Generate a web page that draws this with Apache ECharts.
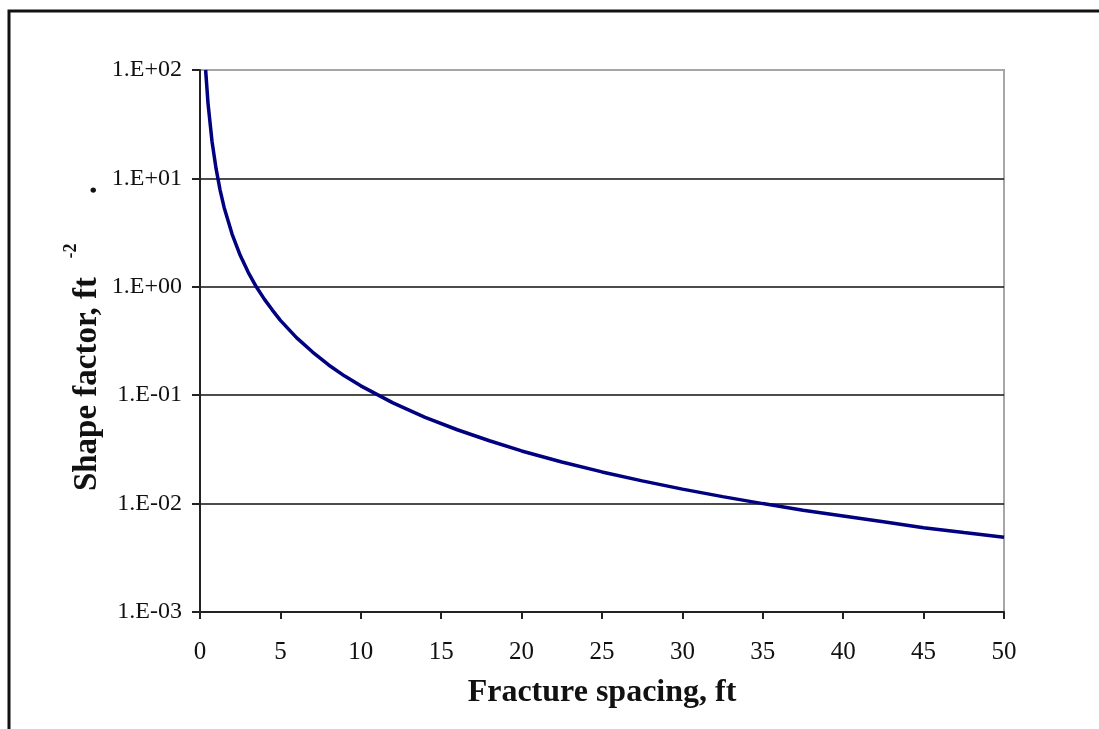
<!DOCTYPE html>
<html>
<head>
<meta charset="utf-8">
<title>Shape factor vs fracture spacing</title>
<script src="https://cdn.jsdelivr.net/npm/echarts@6/dist/echarts.min.js"></script>
<style>
  html, body { margin: 0; padding: 0; background: #fff; }
  #chart { width: 1099px; height: 729px; }
</style>
</head>
<body>
<div id="chart"></div>
<script>
// Fracture spacing (ft)
const spacing = [0.35, 0.5, 0.75, 1, 1.25, 1.5, 2, 2.5, 3, 3.5, 4, 4.5, 5, 6, 7, 8, 9, 10, 12, 14, 16, 18, 20,
                 22.5, 25, 27.5, 30, 32.5, 35, 37.5, 40, 42.5, 45, 47.5, 50];
// Shape factor (ft^-2)
const shapeFactor = [100, 49, 21.8, 12.3, 7.8, 5.4, 3.05, 1.95, 1.36, 1.0, 0.77, 0.61, 0.49, 0.34, 0.25, 0.19, 0.15,
                     0.122, 0.085, 0.0625, 0.048, 0.038, 0.0306, 0.0242, 0.0196, 0.0162, 0.0136,
                     0.0116, 0.0100, 0.0087, 0.0077, 0.0068, 0.0060, 0.0054, 0.0049];
// Log-axis tick labels, bottom to top
const yTickLabels = ['1.E-03', '1.E-02', '1.E-01', '1.E+00', '1.E+01', '1.E+02'];

const serif = '"Liberation Serif", "Times New Roman", serif';
const chart = echarts.init(document.getElementById('chart'), null, { renderer: 'canvas' });

chart.setOption({
  backgroundColor: '#fff',
  animation: false,
  grid: {
    left: 200, top: 70, right: 95, bottom: 117,
    show: true, borderColor: '#a6a6a6', borderWidth: 2, backgroundColor: 'transparent'
  },
  xAxis: {
    type: 'value', min: 0, max: 50, interval: 5,
    axisLine: { show: true, onZero: false, lineStyle: { color: '#222', width: 2 } },
    axisTick: { show: true, inside: false, length: 7, lineStyle: { color: '#222', width: 2 } },
    axisLabel: { margin: 28, color: '#111', fontFamily: serif, fontSize: 25 },
    splitLine: { show: false },
    name: 'Fracture spacing, ft',
    nameLocation: 'middle',
    nameGap: 65,
    nameTextStyle: { color: '#111', fontFamily: serif, fontSize: 32, fontWeight: 'bold' }
  },
  yAxis: {
    type: 'log', logBase: 10, min: 0.001, max: 100,
    axisLine: { show: true, onZero: false, lineStyle: { color: '#222', width: 2 } },
    axisTick: { show: true, inside: false, length: 8, lineStyle: { color: '#222', width: 2 } },
    minorTick: { show: false },
    axisLabel: {
      margin: 18, color: '#111', fontFamily: serif, fontSize: 24,
      formatter: (v, i) => yTickLabels[i]
    },
    splitLine: { show: true, showMaxLine: false, lineStyle: { color: '#111', width: 1.5 } }
  },
  graphic: [
    { // frame edges at left and top
      type: 'polyline', silent: true,
      shape: { points: [[9, 729], [9, 11], [1099, 11]] },
      style: { stroke: '#111', lineWidth: 3, fill: null }
    },
    {
      type: 'text', x: 87, y: 384, rotation: Math.PI / 2, silent: true,
      style: { text: 'Shape factor, ft', fill: '#111', font: 'bold 33px ' + serif,
               align: 'center', verticalAlign: 'middle' }
    },
    {
      type: 'text', x: 71, y: 251, rotation: Math.PI / 2, silent: true,
      style: { text: '-2', fill: '#111', font: 'bold 18px ' + serif,
               align: 'center', verticalAlign: 'middle' }
    },
    {
      type: 'text', x: 87, y: 190, rotation: Math.PI / 2, silent: true,
      style: { text: '.', fill: '#111', font: 'bold 33px ' + serif,
               align: 'center', verticalAlign: 'middle' }
    }
  ],
  series: [{
    type: 'line',
    data: spacing.map((x, i) => [x, shapeFactor[i]]),
    showSymbol: false,
    smooth: false,
    clip: true,
    lineStyle: { color: '#000080', width: 3.5 },
    z: 5
  }]
});
</script>
</body>
</html>
